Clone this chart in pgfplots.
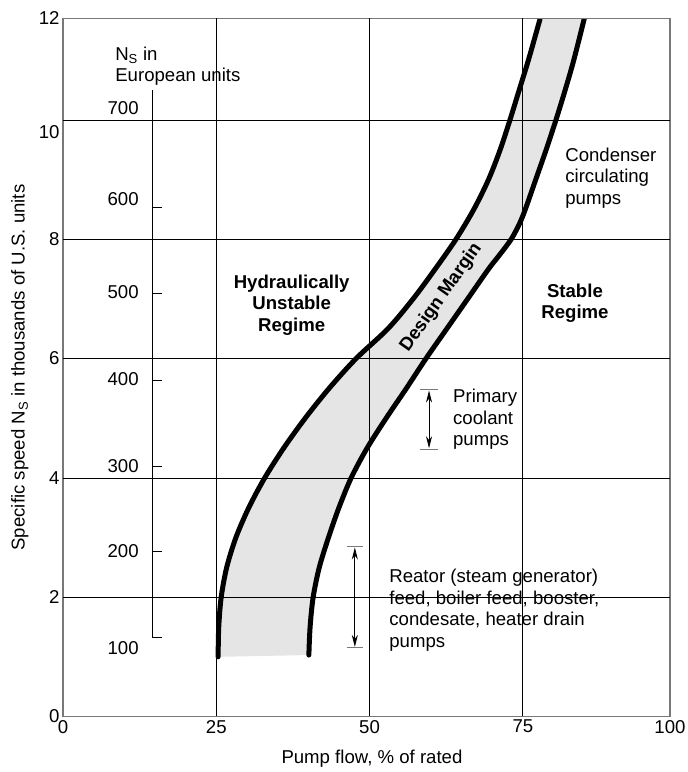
\documentclass[border=0pt]{standalone}
\usepackage{fontspec}
\setmainfont{Liberation Sans}
\usepackage{pgfplots}
\pgfplotsset{compat=1.18}
\usetikzlibrary{arrows.meta}

\newcommand\lbl{\fontsize{18.6}{21.5}\selectfont}
\definecolor{band}{RGB}{229,229,229}
\definecolor{frame}{RGB}{120,120,120}

\begin{document}
\begin{tikzpicture}[font=\lbl]
\useasboundingbox (-63pt,-55.5pt) rectangle (625pt,716.5pt);
\begin{axis}[
    scale only axis,
    width=607pt, height=698pt,
    xmin=0, xmax=99,
    ymin=0, ymax=11.7,
    axis on top,
    /pgf/number format/assume math mode=true,
    xtick={0,25,50,75,99},
    xticklabels={0,25,50,75,100},
    ytick={0,2,4,6,8,9.8,11.7},
    yticklabels={0,2,4,6,8,10,12},
    extra x ticks={25,50,75},
    extra x tick style={grid=major, xticklabel={}},
    extra y ticks={2,4,6,8,10},
    extra y tick style={grid=major, yticklabel={}},
    major grid style={black, line width=0.7pt},
    major tick length=0,
    axis line style={frame, line width=1.2pt},
    tick label style={font=\lbl},
    label style={font=\lbl},
    xlabel={Pump flow, \% of rated},
    ylabel={Specific speed N\textsubscript{S} in thousands of U.S. units},
    xlabel style={at={(axis description cs:0.509,-0.06)}, anchor=center},
    ylabel style={at={(axis description cs:-0.071,0.5)}, anchor=center},
]

% design margin band
\addplot[fill=band, draw=none] coordinates {
    (25.3,1.0)(25.4,1.5)(25.8,2.0)(26.7,2.5)(28.2,3.0)(30.3,3.5)
    (32.9,4.0)(36.0,4.5)(39.5,5.0)(43.4,5.5)(47.8,6.0)(53.0,6.5)
    (57.1,7.0)(60.7,7.5)(64.1,8.0)(67.0,8.5)(69.4,9.0)(71.3,9.5)
    (72.9,10.0)(74.4,10.5)(75.9,11.0)(77.8,11.69)
    (85.0,11.69)(83.3,11.0)(81.9,10.5)(80.4,10.0)(78.8,9.5)(77.1,9.0)
    (75.4,8.5)(74.4,8.25)(73.1,8.0)(71.3,7.75)(69.4,7.5)(66.0,7.0)
    (62.6,6.5)(59.2,6.0)(56.0,5.5)(52.7,5.0)(49.6,4.5)(47.0,4.0)
    (45.0,3.5)(43.3,3.0)(41.8,2.5)(40.8,2.0)(40.3,1.5)(40.1,1.03)
} -- cycle;

% left boundary
\addplot[black, line width=5pt, line cap=round, smooth] coordinates {
    (25.3,1.0)(25.4,1.5)(25.8,2.0)(26.7,2.5)(28.2,3.0)(30.3,3.5)
    (32.9,4.0)(36.0,4.5)(39.5,5.0)(43.4,5.5)(47.8,6.0)(53.0,6.5)
    (57.1,7.0)(60.7,7.5)(64.1,8.0)(67.0,8.5)(69.4,9.0)(71.3,9.5)
    (72.9,10.0)(74.4,10.5)(75.9,11.0)(77.8,11.69)
};
% right boundary
\addplot[black, line width=5pt, line cap=round, smooth] coordinates {
    (40.1,1.03)(40.3,1.5)(40.8,2.0)(41.8,2.5)(43.3,3.0)(45.0,3.5)
    (47.0,4.0)(49.6,4.5)(52.7,5.0)(56.0,5.5)(59.2,6.0)(62.6,6.5)
    (66.0,7.0)(69.4,7.5)(71.3,7.75)(73.1,8.0)(74.4,8.25)(75.4,8.5)
    (77.1,9.0)(78.8,9.5)(80.4,10.0)(81.9,10.5)(83.3,11.0)(85.0,11.69)
};

% european units scale
\addplot[black, line width=0.7pt] coordinates {(14.56,1.33)(14.56,10.5)};
\addplot[black, line width=0.7pt] coordinates {(14.56,1.33)(16.15,1.33)};
\addplot[black, line width=0.7pt] coordinates {(14.56,2.76)(16.15,2.76)};
\addplot[black, line width=0.7pt] coordinates {(14.56,4.20)(16.15,4.20)};
\addplot[black, line width=0.7pt] coordinates {(14.56,5.64)(16.15,5.64)};
\addplot[black, line width=0.7pt] coordinates {(14.56,7.09)(16.15,7.09)};
\addplot[black, line width=0.7pt] coordinates {(14.56,8.54)(16.15,8.54)};
\node at (axis cs:9.8,1.15) {100};
\node at (axis cs:9.8,2.77) {200};
\node at (axis cs:9.8,4.20) {300};
\node at (axis cs:9.8,5.66) {400};
\node at (axis cs:9.8,7.12) {500};
\node at (axis cs:9.8,8.68) {600};
\node at (axis cs:9.8,10.19) {700};
\node[anchor=west, align=left, inner sep=0pt] at (axis cs:8.5,10.9)
    {N\textsubscript{S} in\\European units};

% range arrows
\addplot[black, line width=0.8pt, {Stealth[length=12pt,width=6pt]}-{Stealth[length=12pt,width=6pt]}, shorten <=1pt, shorten >=1pt]
    coordinates {(59.7,4.48)(59.7,5.48)};
\addplot[frame, line width=0.8pt] coordinates {(58.3,5.48)(61.1,5.48)};
\addplot[frame, line width=0.8pt] coordinates {(58.3,4.48)(61.1,4.48)};
\addplot[black, line width=0.8pt, {Stealth[length=12pt,width=6pt]}-{Stealth[length=12pt,width=6pt]}, shorten <=1pt, shorten >=1pt]
    coordinates {(47.6,1.15)(47.6,2.85)};
\addplot[frame, line width=0.8pt] coordinates {(46.3,2.85)(48.9,2.85)};
\addplot[frame, line width=0.8pt] coordinates {(46.3,1.15)(48.9,1.15)};

% annotations
\node[align=center, font=\lbl\bfseries] at (axis cs:37.3,6.9)
    {Hydraulically\\Unstable\\Regime};
\node[align=center, font=\lbl\bfseries] at (axis cs:83.5,6.93)
    {Stable\\Regime};
\node[rotate=55, font=\lbl\bfseries] at (axis cs:61.7,7.02) {Design Margin};
\node[anchor=west, align=left, inner sep=0pt] at (axis cs:81.9,9.03)
    {Condenser\\circulating\\pumps};
\node[anchor=west, align=left, inner sep=0pt] at (axis cs:63.6,4.98)
    {Primary\\coolant\\pumps};
\node[anchor=west, align=left, inner sep=0pt] at (axis cs:53.2,1.78)
    {Reator (steam generator)\\feed, boiler feed, booster,\\condesate, heater drain\\pumps};
\end{axis}
\end{tikzpicture}
\end{document}
